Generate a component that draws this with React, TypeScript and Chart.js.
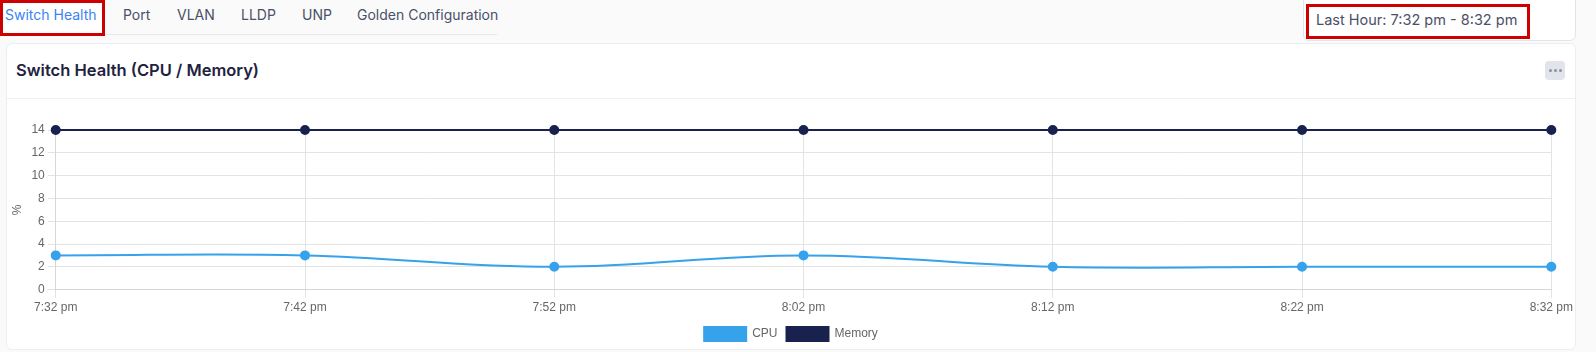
import React, { useEffect, useRef } from "react";
import { Chart, registerables } from "chart.js";

Chart.register(...registerables);

const timeLabels = ["7:32 pm", "7:42 pm", "7:52 pm", "8:02 pm", "8:12 pm", "8:22 pm", "8:32 pm"];
const cpuValues = [3, 3, 2, 3, 2, 2, 2];
const memoryValues = [14, 14, 14, 14, 14, 14, 14];
const tabNames = ["Switch Health", "Port", "VLAN", "LLDP", "UNP", "Golden Configuration"];
const yTicks = { min: 0, max: 14, step: 2 };

const CPU_COLOR = "#36a2eb";
const MEM_COLOR = "#19214f";
const UI_FONT = "Inter, 'Noto Sans', sans-serif";
const CHART_FONT = "'Liberation Sans', Arial, sans-serif";

function HealthChart() {
  const ref = useRef<HTMLCanvasElement | null>(null);
  useEffect(() => {
    if (!ref.current) return;
    const chart = new Chart(ref.current, {
      type: "line",
      data: {
        labels: timeLabels,
        datasets: [
          {
            label: "CPU",
            data: cpuValues,
            borderColor: CPU_COLOR,
            backgroundColor: CPU_COLOR,
            pointBackgroundColor: CPU_COLOR,
            borderWidth: 2,
            pointRadius: 4,
            tension: 0.4,
            fill: false,
            clip: false,
          },
          {
            label: "Memory",
            data: memoryValues,
            borderColor: MEM_COLOR,
            backgroundColor: MEM_COLOR,
            pointBackgroundColor: MEM_COLOR,
            borderWidth: 2,
            pointRadius: 4,
            tension: 0.4,
            fill: false,
            clip: false,
          },
        ],
      },
      options: {
        animation: false,
        responsive: false,
        maintainAspectRatio: false,
        layout: { padding: { top: 30, left: 0, right: 0, bottom: 0 } },
        plugins: {
          legend: {
            position: "bottom",
            labels: {
              boxWidth: 42,
              boxHeight: 14,
              color: "#666",
              font: { family: CHART_FONT, size: 12 },
              padding: 9,
            },
          },
          tooltip: { enabled: false },
        },
        scales: {
          x: {
            offset: false,
            grid: { color: "#e3e3e3", tickLength: 8 },
            border: { color: "#d6d6d6" },
            ticks: {
              color: "#666",
              maxRotation: 0,
              font: { family: CHART_FONT, size: 12 },
            },
          },
          y: {
            min: yTicks.min,
            max: yTicks.max,
            grid: { color: "#e3e3e3", tickLength: 8 },
            border: { color: "#d6d6d6" },
            ticks: {
              stepSize: yTicks.step,
              color: "#666",
              font: { family: CHART_FONT, size: 12 },
            },
            title: {
              display: true,
              text: "%",
              color: "#666",
              font: { family: CHART_FONT, size: 12 },
            },
          },
        },
      },
    });
    return () => chart.destroy();
  }, []);
  return <canvas ref={ref} width={1570} height={251} style={{ position: "absolute", left: 6, top: 100, width: 1570, height: 251 }} />;
}

export default function App() {
  const tabX = [5, 123, 177, 241, 302, 357];
  return (
    <div style={{ position: "fixed", inset: 0, background: "#fafafa", fontFamily: UI_FONT, overflow: "hidden" }}>
      {/* tabs */}
      <div style={{ position: "absolute", left: 0, top: 0, width: 497, height: 34, borderBottom: "1px solid #e8e8ea" }} />
      <div style={{ position: "absolute", left: 0, top: 0, width: 99, height: 30, border: "3px solid #cc0000", background: "#fff" }} />
      {tabNames.map((t, i) => (
        <div key={t} style={{ position: "absolute", left: tabX[i], top: 5, fontSize: 14, lineHeight: "20px", color: i === 0 ? "#3b82f6" : "#4a5068", whiteSpace: "nowrap" }}>
          {t}
        </div>
      ))}
      {/* time range card */}
      <div style={{ position: "absolute", left: 1303, top: -6, width: 271, height: 45, background: "#fff", border: "1px solid #e2e4ec", borderRadius: 6 }} />
      <div style={{ position: "absolute", left: 1306, top: 4, width: 218, height: 29, border: "3px solid #cc0000", background: "#fff" }} />
      <div style={{ position: "absolute", left: 1316, top: 10, fontSize: 14.5, lineHeight: "20px", color: "#4a5068", whiteSpace: "nowrap" }}>
        Last Hour: 7:32 pm - 8:32 pm
      </div>
      {/* main card */}
      <div style={{ position: "absolute", left: 6, top: 43, width: 1568, height: 305, background: "#fff", border: "1px solid #eceef2", borderRadius: 6 }} />
      <div style={{ position: "absolute", left: 7, top: 98, width: 1568, height: 1, background: "#eef0f3" }} />
      <div style={{ position: "absolute", left: 16, top: 59, fontSize: 16.5, lineHeight: "22px", fontWeight: 600, color: "#1f2340", whiteSpace: "nowrap" }}>
        Switch Health (CPU / Memory)
      </div>
      <div style={{ position: "absolute", left: 1545, top: 61, width: 20, height: 19, background: "#e2e4ec", borderRadius: 4, display: "flex", alignItems: "center", justifyContent: "center", gap: 2 }}>
        {[0, 1, 2].map((k) => (
          <div key={k} style={{ width: 3, height: 3, borderRadius: 2, background: "#8a90a8" }} />
        ))}
      </div>
      <HealthChart />
    </div>
  );
}
